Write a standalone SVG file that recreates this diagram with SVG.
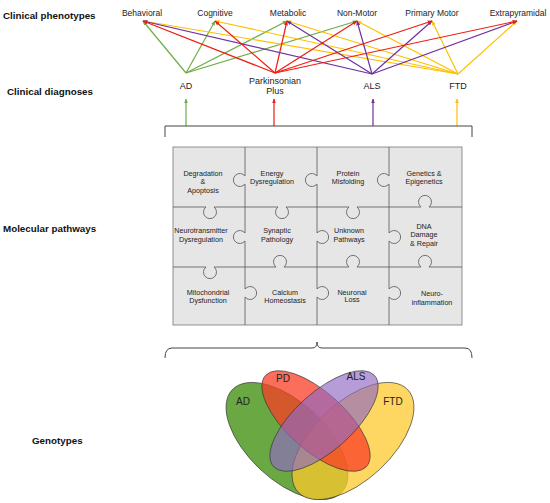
<svg xmlns="http://www.w3.org/2000/svg" width="550" height="503" viewBox="0 0 550 503">
<style>
.h{font-family:"Liberation Sans",Arial,sans-serif;font-weight:bold;font-size:9.8px;fill:#111}
.p{font-family:"Liberation Sans",Arial,sans-serif;font-size:8.5px;fill:#222;text-anchor:middle}
.d{font-family:"Liberation Sans",Arial,sans-serif;font-size:9px;fill:#222;text-anchor:middle}
.c{font-family:"Liberation Sans",Arial,sans-serif;font-size:7.2px;fill:#222;text-anchor:middle}
.v{font-family:"Liberation Sans",Arial,sans-serif;font-size:10px;fill:#222;text-anchor:middle}
.ln{fill:none;stroke-width:1.2}
.g{stroke:#70ad47}.r{stroke:#f01c10}.u{stroke:#7030a0}.y{stroke:#ffc000}
.edge{fill:none;stroke:#555;stroke-width:0.8}
.br{fill:none;stroke:#444;stroke-width:1}
.el{stroke:#333;stroke-width:0.75;stroke-opacity:0.85}
</style>
<defs>
<marker id="mg" viewBox="0 0 10 10" refX="9" refY="5" markerWidth="4" markerHeight="4" orient="auto"><path d="M0,1 L10,5 L0,9 z" fill="#70ad47"/></marker>
<marker id="mr" viewBox="0 0 10 10" refX="9" refY="5" markerWidth="4" markerHeight="4" orient="auto"><path d="M0,1 L10,5 L0,9 z" fill="#f01c10"/></marker>
<marker id="mu" viewBox="0 0 10 10" refX="9" refY="5" markerWidth="4" markerHeight="4" orient="auto"><path d="M0,1 L10,5 L0,9 z" fill="#7030a0"/></marker>
<marker id="my" viewBox="0 0 10 10" refX="9" refY="5" markerWidth="4" markerHeight="4" orient="auto"><path d="M0,1 L10,5 L0,9 z" fill="#ffc000"/></marker>
</defs>

<g id="row-labels">
<text class="h" x="3" y="19">Clinical phenotypes</text>
<text class="h" x="7" y="95">Clinical diagnoses</text>
<text class="h" x="3" y="232">Molecular pathways</text>
<text class="h" x="32" y="444">Genotypes</text>
</g>

<g id="connectors">
<line class="ln g" x1="186" y1="73" x2="143" y2="21" marker-end="url(#mg)"/>
<line class="ln g" x1="186" y1="73" x2="215" y2="21" marker-end="url(#mg)"/>
<line class="ln g" x1="186" y1="73" x2="287" y2="21" marker-end="url(#mg)"/>
<line class="ln g" x1="186" y1="73" x2="357" y2="21" marker-end="url(#mg)"/>
<line class="ln y" x1="458" y1="74" x2="143" y2="21" marker-end="url(#my)"/>
<line class="ln y" x1="458" y1="74" x2="215" y2="21" marker-end="url(#my)"/>
<line class="ln y" x1="458" y1="74" x2="287" y2="21" marker-end="url(#my)"/>
<line class="ln y" x1="458" y1="74" x2="357" y2="21" marker-end="url(#my)"/>
<line class="ln y" x1="458" y1="74" x2="432" y2="21" marker-end="url(#my)"/>
<line class="ln y" x1="458" y1="74" x2="517" y2="21" marker-end="url(#my)"/>
<line class="ln u" x1="372" y1="74" x2="143" y2="21" marker-end="url(#mu)"/>
<line class="ln u" x1="372" y1="74" x2="287" y2="21" marker-end="url(#mu)"/>
<line class="ln u" x1="372" y1="74" x2="357" y2="21" marker-end="url(#mu)"/>
<line class="ln u" x1="372" y1="74" x2="432" y2="21" marker-end="url(#mu)"/>
<line class="ln u" x1="372" y1="74" x2="517" y2="21" marker-end="url(#mu)"/>
<line class="ln r" x1="275" y1="73" x2="143" y2="21" marker-end="url(#mr)"/>
<line class="ln r" x1="275" y1="73" x2="215" y2="21" marker-end="url(#mr)"/>
<line class="ln r" x1="275" y1="73" x2="287" y2="21" marker-end="url(#mr)"/>
<line class="ln r" x1="275" y1="73" x2="357" y2="21" marker-end="url(#mr)"/>
<line class="ln r" x1="275" y1="73" x2="432" y2="21" marker-end="url(#mr)"/>
<line class="ln r" x1="275" y1="73" x2="517" y2="21" marker-end="url(#mr)"/>
<line class="ln g" x1="186" y1="126" x2="186" y2="99" marker-end="url(#mg)"/>
<line class="ln r" x1="274" y1="126" x2="274" y2="99" marker-end="url(#mr)"/>
<line class="ln u" x1="373" y1="126" x2="373" y2="99" marker-end="url(#mu)"/>
<line class="ln y" x1="457" y1="126" x2="457" y2="99" marker-end="url(#my)"/>
<path class="br" d="M165,137 V126 H472 V137"/>
<path class="br" d="M165,358 Q165,348 172,348 H312 Q317,348 317,342 Q317,348 322,348 H465 Q472,348 472,358"/>
</g>

<g id="phenotypes">
<text class="p" x="142" y="16">Behavioral</text>
<text class="p" x="215" y="16">Cognitive</text>
<text class="p" x="288" y="16">Metabolic</text>
<text class="p" x="357" y="16">Non-Motor</text>
<text class="p" x="432" y="16">Primary Motor</text>
<text class="p" x="518" y="16">Extrapyramidal</text>
</g>

<g id="diagnoses">
<text class="d" x="186" y="89">AD</text>
<text class="d" x="275" y="84">Parkinsonian</text>
<text class="d" x="275" y="94">Plus</text>
<text class="d" x="372" y="89">ALS</text>
<text class="d" x="458" y="89">FTD</text>
</g>

<g id="puzzle">
<rect x="173" y="147" width="289" height="178" fill="#e6e6e6" stroke="#777" stroke-width="0.8"/>
<path class="edge" d="M245,147 V176 A6.5,6.5 0 1 0 245,184 V233 A6.5,6.5 0 1 0 245,241 V289 A6.5,6.5 0 1 1 245,297 V325"/>
<path class="edge" d="M317,147 V176 A6.5,6.5 0 1 0 317,184 V233 A6.5,6.5 0 1 1 317,241 V289 A6.5,6.5 0 1 1 317,297 V325"/>
<path class="edge" d="M389,147 V176 A6.5,6.5 0 1 0 389,184 V233 A6.5,6.5 0 1 1 389,241 V289 A6.5,6.5 0 1 1 389,297 V325"/>
<path class="edge" d="M173,207 H206 A6.5,6.5 0 1 0 214,207 H278 A6.5,6.5 0 1 0 286,207 H349 A6.5,6.5 0 1 0 357,207 H421 A6.5,6.5 0 1 1 429,207 H462"/>
<path class="edge" d="M173,267 H206 A6.5,6.5 0 1 0 214,267 H276 A6.5,6.5 0 1 1 284,267 H349 A6.5,6.5 0 1 1 357,267 H421 A6.5,6.5 0 1 1 429,267 H462"/>
</g>

<g id="p-degradation"><text class="c" x="203" y="175.5">Degradation</text><text class="c" x="203" y="184">&amp;</text><text class="c" x="203" y="192.5">Apoptosis</text></g>
<g id="p-energy"><text class="c" x="272" y="175.5">Energy</text><text class="c" x="272" y="184">Dysregulation</text></g>
<g id="p-protein"><text class="c" x="348" y="175.5">Protein</text><text class="c" x="348" y="184">Misfolding</text></g>
<g id="p-genetics"><text class="c" x="424" y="175.5">Genetics &amp;</text><text class="c" x="424" y="184">Epigenetics</text></g>
<g id="p-neurotransmitter"><text class="c" x="201" y="232.5">Neurotransmitter</text><text class="c" x="201" y="241.5">Dysregulation</text></g>
<g id="p-synaptic"><text class="c" x="277" y="232.5">Synaptic</text><text class="c" x="277" y="241.5">Pathology</text></g>
<g id="p-unknown"><text class="c" x="349" y="232.5">Unknown</text><text class="c" x="349" y="241.5">Pathways</text></g>
<g id="p-dna"><text class="c" x="424" y="228.5">DNA</text><text class="c" x="424" y="237">Damage</text><text class="c" x="424" y="245.5">&amp; Repair</text></g>
<g id="p-mito"><text class="c" x="208" y="294.5">Mitochondrial</text><text class="c" x="208" y="303">Dysfunction</text></g>
<g id="p-calcium"><text class="c" x="285" y="294.5">Calcium</text><text class="c" x="285" y="303">Homeostasis</text></g>
<g id="p-neuronal"><text class="c" x="352" y="294.5">Neuronal</text><text class="c" x="352" y="302">Loss</text></g>
<g id="p-inflammation"><text class="c" x="432" y="295.5">Neuro-</text><text class="c" x="432" y="304.5">inflammation</text></g>

<g id="venn">
<g id="set-ad"><ellipse cx="287" cy="441" rx="75" ry="39" transform="rotate(43 287 441)" fill="#388b04" fill-opacity="0.75" class="el"/></g>
<g id="set-ftd"><ellipse cx="353" cy="441" rx="75" ry="39" transform="rotate(-43 353 441)" fill="#fcc92c" fill-opacity="0.75" class="el"/></g>
<g id="set-pd"><ellipse cx="316" cy="421" rx="68" ry="29" transform="rotate(42 316 421)" fill="#f93d26" fill-opacity="0.75" class="el"/></g>
<g id="set-als"><ellipse cx="324" cy="421" rx="68" ry="29" transform="rotate(-42 324 421)" fill="#8f69c3" fill-opacity="0.65" class="el"/></g>
<text class="v" x="243" y="405">AD</text>
<text class="v" x="283" y="382">PD</text>
<text class="v" x="356" y="380">ALS</text>
<text class="v" x="393" y="405">FTD</text>
</g>
</svg>
